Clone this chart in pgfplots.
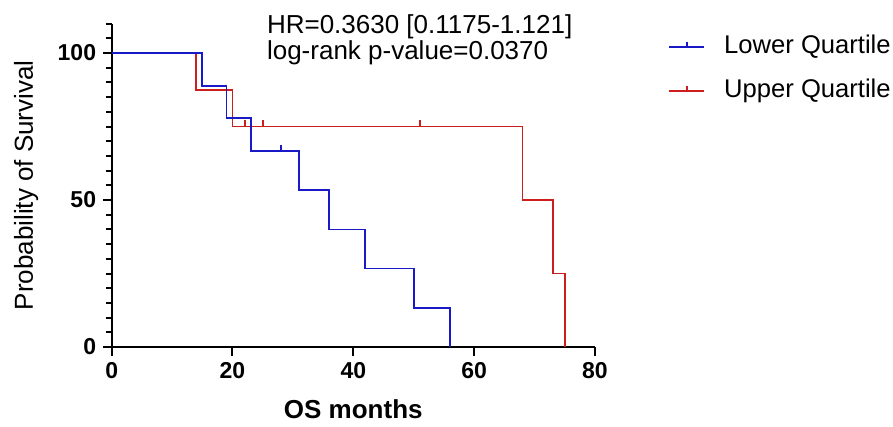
\documentclass[border=0pt]{standalone}
\usepackage{pgfplots}
\pgfplotsset{compat=1.18}
\usepackage{fontspec}
\setmainfont{Liberation Sans}
\definecolor{kmblue}{RGB}{25,25,200}
\definecolor{kmred}{RGB}{205,30,30}

\begin{document}
\begin{tikzpicture}
\begin{axis}[
  x=3.02pt, y=1.47pt,
  xmin=0, xmax=80, ymin=0, ymax=110,
  axis x line*=bottom, axis y line*=left,
  every outer x axis line/.append style={-, line width=1pt},
  every outer y axis line/.append style={-, line width=1pt},
  xtick={0,20,40,60,80}, ytick={0,50,100},
  minor ytick={5,10,15,20,25,30,35,40,45,55,60,65,70,75,80,85,90,95,105,110},
  tick align=outside,
  tick style={black, line width=1pt},
  /pgf/number format/assume math mode=true,
  tick label style={font=\fontsize{11.5}{12}\selectfont\bfseries},
  xlabel={OS months},
  ylabel={Probability of Survival},
  xlabel style={font=\fontsize{13}{14}\selectfont\bfseries,
    at={(axis description cs:0.5,-0.2195)}, anchor=base},
  ylabel style={font=\fontsize{13}{14}\selectfont,
    at={(axis description cs:-0.163,0.5)}, anchor=base},
  clip=false,
  legend cell align=left,
  legend style={draw=none, fill=none, at={(axis cs:92.1,106.4)}, anchor=north west,
    font=\fontsize{12.8}{14}\selectfont, inner sep=0pt, row sep=9.5pt,
    nodes={inner sep=0pt, text height=9.5pt, text depth=3pt},
    /tikz/every odd column/.append style={column sep=9.5pt}},
  legend image code/.code={
    \draw[#1, line width=0.9pt] (0pt,0pt) -- (17.5pt,0pt);
    \draw[#1, line width=1pt] (8.75pt,0pt) -- (8.75pt,2.5pt);
  },
]
% invisible frame = full figure extent
\path[draw=none] (axis cs:-18.49,118.03) rectangle (axis cs:129.35,-27.2);

\addplot[kmred, line width=0.9pt, const plot, forget plot] coordinates {
  (0,100) (14,87.5) (20,75) (68,50) (73,25) (75,0)
};
\addplot[kmblue, line width=0.9pt, const plot] coordinates {
  (0,100) (15,88.9) (19,77.8) (23,66.7) (31,53.3) (36,40) (42,26.7) (50,13.3) (56,0)
};
\addlegendentry{Lower Quartile}
% censored marks
\addplot[only marks, mark=|, mark size=1.5pt, kmblue, line width=1pt, forget plot]
  coordinates {(28,67.8)};
\addplot[only marks, mark=|, mark size=1.5pt, kmred, line width=1pt, forget plot]
  coordinates {(22,76.1) (25,76.1) (51,76.1)};
\addlegendimage{kmred}
\addlegendentry{Upper Quartile}

\node[anchor=base west, font=\fontsize{13}{13}\selectfont] at (axis cs:24.55,106.6)
  {HR=0.3630 [0.1175-1.121]};
\node[anchor=base west, font=\fontsize{13}{13}\selectfont] at (axis cs:24.55,97.8)
  {log-rank p-value=0.0370};
\end{axis}
\end{tikzpicture}
\end{document}
